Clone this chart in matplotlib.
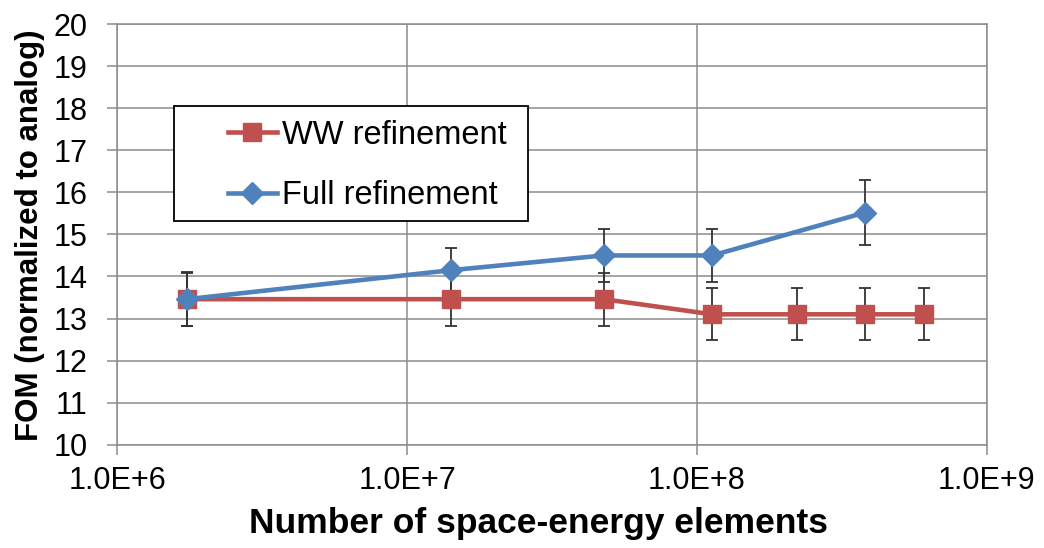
import matplotlib
matplotlib.use("Agg")
import matplotlib.pyplot as plt
from matplotlib.patches import Rectangle

# Data
ww_x = [1.74e6, 1.42e7, 4.77e7, 1.13e8, 2.21e8, 3.81e8, 6.07e8]
ww_y = [13.46, 13.46, 13.46, 13.10, 13.10, 13.10, 13.10]
ww_err = [0.64, 0.64, 0.63, 0.62, 0.62, 0.62, 0.62]

full_x = [1.74e6, 1.42e7, 4.77e7, 1.13e8, 3.81e8]
full_y = [13.46, 14.15, 14.50, 14.50, 15.52]
full_err = [0.63, 0.53, 0.64, 0.62, 0.77]

series_labels = ["WW refinement", "Full refinement"]
x_ticks = [1e6, 1e7, 1e8, 1e9]
x_tick_labels = ["1.0E+6", "1.0E+7", "1.0E+8", "1.0E+9"]
y_ticks = list(range(10, 21))

plt.rcParams['font.family'] = ['Liberation Sans', 'DejaVu Sans']

fig = plt.figure(figsize=(10.44, 5.48), dpi=100)
ax = fig.add_axes([0.1125, 0.1885, 0.8325, 0.7675])

red = '#C0504D'
blue = '#4F81BD'
grid_c = '#8C8C8C'

ax.errorbar(ww_x, ww_y, yerr=ww_err, fmt='none', ecolor='#333333', elinewidth=1.3,
            capsize=4.5, capthick=1.3, zorder=3)
ax.errorbar(full_x, full_y, yerr=full_err, fmt='none', ecolor='#333333', elinewidth=1.3,
            capsize=4.5, capthick=1.3, zorder=3)
ax.plot(ww_x, ww_y, color=red, lw=3.3, marker='s', ms=13.5, mfc=red, mec=red,
        label=series_labels[0], zorder=4)
ax.plot(full_x, full_y, color=blue, lw=3.3, marker='D', ms=11, mfc=blue, mec=blue,
        label=series_labels[1], zorder=5)

ax.set_xscale('log')
ax.set_xlim(1e6, 1e9)
ax.set_ylim(10, 20)
ax.set_xticks(x_ticks)
ax.set_xticklabels(x_tick_labels)
ax.xaxis.set_minor_locator(matplotlib.ticker.NullLocator())
ax.set_yticks(y_ticks)
ax.grid(True, color=grid_c, lw=1.1)
ax.set_axisbelow(True)
for s in ax.spines.values():
    s.set_color(grid_c)
    s.set_linewidth(1.1)
ax.tick_params(axis='both', which='major', length=7.5, width=1.1, color=grid_c,
               labelsize=22)
ax.tick_params(axis='y', pad=14)
ax.tick_params(axis='x', pad=8)

ax.set_xlabel("Number of space-energy elements", fontsize=25.5, fontweight='bold',
              va='center')
ax.xaxis.set_label_coords(0.485, -0.188)
ax.set_ylabel("FOM (normalized to analog)", fontsize=22.5, fontweight='bold',
              va='center')
ax.yaxis.set_label_coords(-0.1007, 0.498)

# legend frame
ax.add_patch(Rectangle((0.065, 0.532), 0.407, 0.273, transform=ax.transAxes,
                       facecolor='white', edgecolor='black', lw=1.3, zorder=6))
leg = ax.legend(loc='upper left', bbox_to_anchor=(0.127, 0.773), fontsize=23.5,
                frameon=False, handlelength=1.5, handletextpad=0.15,
                borderpad=0, labelspacing=0.9, borderaxespad=0)
leg.set_zorder(7)

fig.savefig("out.png", dpi=100)
